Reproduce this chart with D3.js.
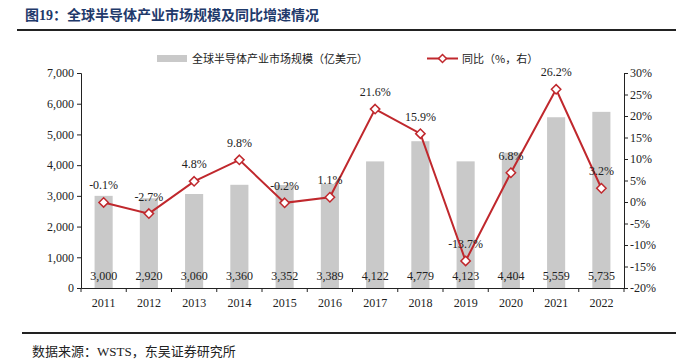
<!DOCTYPE html>
<html>
<head>
<meta charset="utf-8">
<script src="https://cdn.jsdelivr.net/npm/d3@7"></script>
<style>
  body { margin: 0; background: #fff; }
  svg text { font-family: "Liberation Serif", "Noto Sans CJK SC", serif; }
</style>
</head>
<body>
<svg width="676" height="364"></svg>
<script>
const years = ["2011", "2012", "2013", "2014", "2015", "2016", "2017", "2018", "2019", "2020", "2021", "2022"];
const marketSize = [3000, 2920, 3060, 3360, 3352, 3389, 4122, 4779, 4123, 4404, 5559, 5735];
const growth = [-0.1, -2.7, 4.8, 9.8, -0.2, 1.1, 21.6, 15.9, -13.7, 6.8, 26.2, 3.2];
const leftTicks = d3.range(0, 7001, 1000);
const rightTicks = d3.range(-20, 31, 5);

const svg = d3.select("svg");
const red = "#c0282d";
const grey = "#c9c9c9";
const cjk = "'Noto Sans CJK SC', sans-serif";
const mixed = "'Liberation Serif', 'Noto Sans CJK SC', serif";

// title + rules
svg.append("text")
    .attr("x", 25).attr("y", 20)
    .attr("fill", "#1f3a6b")
    .attr("font-size", 14).attr("font-weight", "bold")
    .style("font-family", mixed)
    .text("图19：全球半导体产业市场规模及同比增速情况");
svg.append("line").attr("x1", 17).attr("x2", 676).attr("y1", 30).attr("y2", 30)
    .attr("stroke", "#222").attr("stroke-width", 2);
svg.append("line").attr("x1", 22).attr("x2", 676).attr("y1", 333).attr("y2", 333)
    .attr("stroke", "#222").attr("stroke-width", 2);
svg.append("text")
    .attr("x", 32).attr("y", 356)
    .attr("font-size", 13).attr("fill", "#222")
    .style("font-family", mixed)
    .text("数据来源：WSTS，东吴证券研究所");

const x = d3.scaleBand().domain(years).range([81, 624]).paddingInner(0.6).paddingOuter(0.3);
const xb = d3.scaleBand().domain(years).range([81, 624]);
const yL = d3.scaleLinear().domain([0, 7000]).range([288, 73]);
const yR = d3.scaleLinear().domain([-20, 30]).range([288, 73]);

// bars
svg.selectAll(".bar").data(years).join("rect")
    .attr("x", d => x(d))
    .attr("width", x.bandwidth())
    .attr("y", (d, i) => yL(marketSize[i]))
    .attr("height", (d, i) => yL(0) - yL(marketSize[i]))
    .attr("fill", grey);

// bar values
svg.selectAll(".bv").data(years).join("text")
    .attr("x", d => xb(d) + xb.bandwidth() / 2)
    .attr("y", 280)
    .attr("text-anchor", "middle")
    .attr("font-size", 12).attr("fill", "#222")
    .text((d, i) => d3.format(",")(marketSize[i]));

// axes
const fmt = d3.format(",");
const gL = svg.append("g").attr("transform", "translate(81,0)")
    .call(d3.axisLeft(yL).tickValues(leftTicks).tickSize(4).tickFormat(fmt));
const gR = svg.append("g").attr("transform", "translate(624,0)")
    .call(d3.axisRight(yR).tickValues(rightTicks).tickSize(4).tickFormat(d => d + "%"));
const gX = svg.append("g").attr("transform", "translate(0,288)")
    .call(d3.axisBottom(xb).tickSize(0));
[gL, gR, gX].forEach(g => {
    g.select(".domain").attr("stroke", "#222");
    g.selectAll("line").attr("stroke", "#222");
    g.selectAll("text").attr("font-size", 12).attr("fill", "#222")
        .style("font-family", "'Liberation Serif', serif");
});
gX.selectAll("text").attr("dy", "1.3em");
gL.selectAll("text").attr("x", -7);
gR.selectAll("text").attr("x", 6);
// x tick marks at band edges
svg.selectAll(".xt").data(d3.range(years.length + 1)).join("line")
    .attr("x1", i => 81 + i * xb.step()).attr("x2", i => 81 + i * xb.step())
    .attr("y1", 288).attr("y2", 292)
    .attr("stroke", "#222");

// growth line
const cx = (d, i) => xb(years[i]) + xb.bandwidth() / 2;
const line = d3.line().x((d, i) => cx(d, i)).y(d => yR(d));
svg.append("path")
    .attr("d", line(growth))
    .attr("fill", "none").attr("stroke", red).attr("stroke-width", 2);

const diamond = d3.symbol().type(d3.symbolDiamond2).size(56);
svg.selectAll(".pt").data(growth).join("path")
    .attr("d", diamond)
    .attr("transform", (d, i) => `translate(${cx(d, i)},${yR(d)})`)
    .attr("fill", "#fff").attr("stroke", red).attr("stroke-width", 1.5);

svg.selectAll(".gl").data(growth).join("text")
    .attr("x", (d, i) => cx(d, i))
    .attr("y", d => yR(d) - 13)
    .attr("text-anchor", "middle")
    .attr("font-size", 12).attr("fill", "#222")
    .text(d => d.toFixed(1) + "%");

// legend
svg.append("rect").attr("x", 157).attr("y", 55).attr("width", 30).attr("height", 7).attr("fill", grey);
svg.append("text").attr("x", 192).attr("y", 63).attr("font-size", 11).attr("fill", "#222")
    .style("font-family", cjk).text("全球半导体产业市场规模（亿美元）");
svg.append("line").attr("x1", 427).attr("x2", 458).attr("y1", 58.5).attr("y2", 58.5)
    .attr("stroke", red).attr("stroke-width", 2);
svg.append("path").attr("d", d3.symbol().type(d3.symbolDiamond2).size(40)).attr("transform", "translate(442.5,58.5)")
    .attr("fill", "#fff").attr("stroke", red).attr("stroke-width", 1.5);
svg.append("text").attr("x", 462).attr("y", 63).attr("font-size", 11).attr("fill", "#222")
    .style("font-family", cjk).text("同比（%，右）");
</script>
</body>
</html>
